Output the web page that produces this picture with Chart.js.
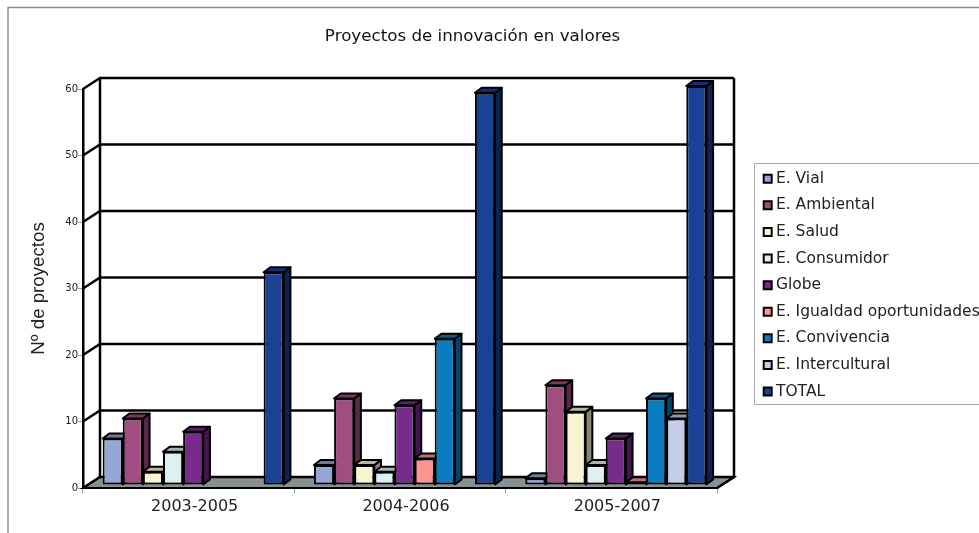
<!DOCTYPE html>
<html><head><meta charset="utf-8">
<script src="https://cdn.jsdelivr.net/npm/chart.js@4"></script>
<style>html,body{margin:0;padding:0;background:#fff;overflow:hidden}canvas{display:block}</style>
</head><body><canvas id="c" width="979" height="533"></canvas>
<script>
const categories = ['2003-2005','2004-2006','2005-2007'];
const seriesNames = ['E. Vial','E. Ambiental','E. Salud','E. Consumidor','Globe','E. Igualdad oportunidades','E. Convivencia','E. Intercultural','TOTAL'];
const vial = [7,3,1];
const ambiental = [10,13,15];
const salud = [2,3,11];
const consumidor = [5,2,3];
const globe = [8,12,7];
const igualdad = [null,4,0.4];
const convivencia = [null,22,13];
const intercultural = [null,null,10];
const total = [32,59,60];
const seriesValues = [vial,ambiental,salud,consumidor,globe,igualdad,convivencia,intercultural,total];
const colors = ['#95a6d4','#a04d80','#f8f3d0','#dcf0f2','#772c8c','#fd9690','#0a7cc0','#c5cde9','#1b4196'];
const yTicks = [0,10,20,30,40,50,60];

const shade = (hex,f)=>{const n=parseInt(hex.slice(1),16);
  return `rgb(${(n>>16)*f|0},${((n>>8)&255)*f|0},${(n&255)*f|0})`;};
const DX=17, DY=-11, BAR_DX=4.5, BAR_DY=-3, SIDE_DX=6.7, SIDE_DY=-5;

function drawDepth(chart,meta){
  const c=chart.ctx,col=colors[meta.index];
  c.save(); c.strokeStyle='#000'; c.lineWidth=2; c.lineJoin='round';
  meta.data.forEach((b,i)=>{
    if(seriesValues[meta.index][i]==null) return;
    const l=b.x-b.width/2,r=b.x+b.width/2,t=b.y,bo=b.base;
    c.fillStyle=shade(col,.55);
    c.beginPath(); c.moveTo(r,t); c.lineTo(r+SIDE_DX,t+SIDE_DY); c.lineTo(r+SIDE_DX,bo+SIDE_DY); c.lineTo(r,bo); c.closePath(); c.fill(); c.stroke();
    c.fillStyle=shade(col,.75);
    c.beginPath(); c.moveTo(l,t); c.lineTo(l+SIDE_DX,t+SIDE_DY); c.lineTo(r+SIDE_DX,t+SIDE_DY); c.lineTo(r,t); c.closePath(); c.fill(); c.stroke();
  });
  c.restore();
}

const scene = {
  id:'scene',
  beforeDraw(chart){
    const c=chart.ctx, lg=chart.legend, tb=chart.titleBlock;
    c.save();
    c.strokeStyle='#8c8c8c'; c.lineWidth=1.5;
    c.beginPath(); c.moveTo(8,533); c.lineTo(8,7.5); c.lineTo(979,7.5); c.stroke();
    c.strokeStyle='#a8a8a8'; c.lineWidth=1;
    c.beginPath(); c.moveTo(979,163.5); c.lineTo(754.5,163.5); c.lineTo(754.5,404.5); c.lineTo(979,404.5); c.stroke();
    c.restore();
    const w=lg.width,h=lg.height;
    lg.left=756.1; lg.top=159.9; lg.right=lg.left+w; lg.bottom=lg.top+h;
    tb.left=0; tb.right=945;
  },
  beforeDatasetsDraw(chart){
    const c=chart.ctx,{left,right,top,bottom}=chart.chartArea,y=chart.scales.y;
    c.save();
    c.fillStyle='#8a8f91'; c.strokeStyle='#000'; c.lineWidth=2;
    c.beginPath(); c.moveTo(left,bottom); c.lineTo(right,bottom); c.lineTo(right+DX,bottom+DY); c.lineTo(left+DX,bottom+DY); c.closePath(); c.fill(); c.stroke();
    c.lineWidth=2.5;
    yTicks.forEach(v=>{const p=y.getPixelForValue(v);
      c.beginPath(); c.moveTo(left,p); c.lineTo(left+DX,p+DY); c.lineTo(right+DX,p+DY); c.stroke();});
    c.beginPath(); c.moveTo(left+DX,bottom+DY); c.lineTo(left+DX,top+DY); c.stroke();
    c.beginPath(); c.moveTo(right+DX,top+DY); c.lineTo(right+DX,bottom+DY); c.lineTo(right,bottom); c.stroke();
    c.translate(BAR_DX,BAR_DY);
    // left-to-right painting, so each bar hides the depth of the one before it
    chart.getSortedVisibleDatasetMetas().forEach(meta=>{
      drawDepth(chart,meta);
      meta.controller.draw();
    });
    c.restore();
    return false;
  }
};

new Chart(document.getElementById('c'),{
  type:'bar',
  data:{labels:categories,datasets:seriesNames.map((n,i)=>({
    label:n,data:seriesValues[i],backgroundColor:colors[i],borderColor:'#000',borderWidth:2,borderSkipped:false,
    categoryPercentage:.857,barPercentage:1}))},
  options:{
    responsive:false,animation:false,devicePixelRatio:1,
    layout:{padding:{left:0,right:262,top:0,bottom:0}},
    plugins:{
      tooltip:{enabled:false},
      title:{display:true,text:'Proyectos de innovación en valores',color:'#111',
        font:{family:'DejaVu Sans',size:16.7,weight:'normal',lineHeight:1.2},padding:{top:27,bottom:42}},
      legend:{position:'chartArea',align:'start',
        labels:{usePointStyle:true,pointStyle:'rect',boxWidth:1,boxHeight:8,padding:11.1,color:'#222',
          font:{family:'DejaVu Sans',size:15.5}}}
    },
    scales:{
      x:{offset:true,afterFit:s=>{s.height=45;},
        grid:{display:true,drawOnChartArea:false,offset:true,drawTicks:true,tickLength:5,color:'#999',lineWidth:1},
        border:{display:true,color:'#000',width:0},
        ticks:{color:'#222',font:{family:'DejaVu Sans',size:16},padding:4,maxRotation:0,labelOffset:6}},
      y:{min:0,max:60,afterFit:s=>{s.width=83;},
        grid:{display:true,drawOnChartArea:false,drawTicks:true,tickLength:5,color:'#999',lineWidth:1},
        border:{display:true,color:'#000',width:2.5},
        afterBuildTicks:s=>{s.ticks=yTicks.map(v=>({value:v}));},
        ticks:{color:'#222',font:{family:'DejaVu Sans',size:10},padding:0},
        title:{display:true,text:'Nº de proyectos',color:'#222',font:{family:'Liberation Sans',size:18.7},padding:{top:28,bottom:0}}}
    }
  },
  plugins:[scene]
});
</script></body></html>
